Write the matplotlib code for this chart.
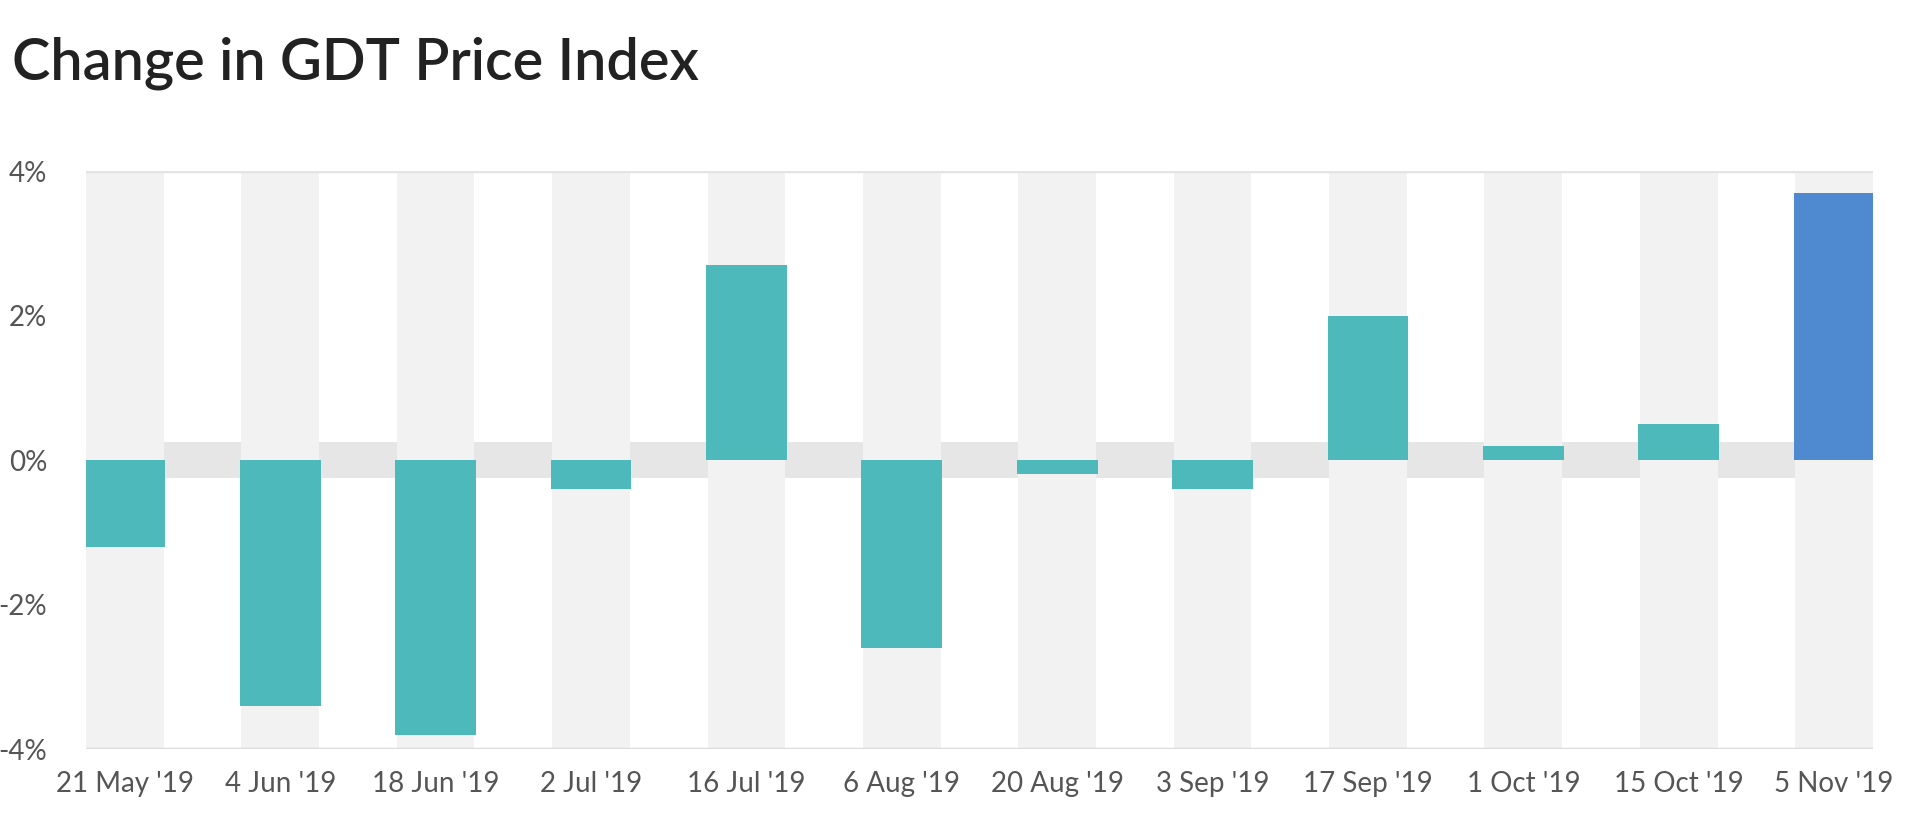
import matplotlib.pyplot as plt

plt.rcParams['font.family'] = ['Lato', 'DejaVu Sans']

# data (% change per GDT event)
dates = ["21 May '19", "4 Jun '19", "18 Jun '19", "2 Jul '19", "16 Jul '19", "6 Aug '19",
         "20 Aug '19", "3 Sep '19", "17 Sep '19", "1 Oct '19", "15 Oct '19", "5 Nov '19"]
changes = [-1.2, -3.4, -3.8, -0.4, 2.7, -2.6, -0.2, -0.4, 2.0, 0.2, 0.5, 3.7]
y_ticks = [-4, -2, 0, 2, 4]
y_labels = ['-4%', '-2%', '0%', '2%', '4%']

teal = '#4db9ba'
blue = '#4f8ad1'
colors = [teal] * (len(changes) - 1) + [blue]
x = list(range(len(dates)))

fig = plt.figure(figsize=(19.2, 8.33), dpi=100)
ax = fig.add_axes([0.0448, 0.1008, 0.9307, 0.6939])

# zero band, column stripes, then the bars
ax.axhspan(-0.25, 0.25, color='#e6e6e6', zorder=0, lw=0)
ax.bar(x, [8] * len(x), bottom=-4, width=0.5, color='#f2f2f2', zorder=1, lw=0)
ax.bar(x, changes, width=0.52, color=colors, zorder=2, lw=0)

ax.axhline(4, color='#e4e4e4', lw=2.5, zorder=1)
ax.axhline(-4, color='#dcdcdc', lw=2.5, zorder=3)

ax.set_xlim(-0.25, len(x) - 0.75)
ax.set_ylim(-4, 4)
ax.set_yticks(y_ticks)
ax.set_yticklabels(y_labels)
ax.set_xticks(x)
ax.set_xticklabels(dates)
ax.tick_params(axis='both', length=0, labelsize=20, labelcolor='#555555')
ax.tick_params(axis='y', pad=28)
ax.tick_params(axis='x', pad=16)
for s in ax.spines.values():
    s.set_visible(False)

fig.text(12 / 1920, 1 - 80 / 833, 'Change in GDT Price Index', fontsize=41.5,
         fontweight='semibold', color='#222222', va='baseline', ha='left')

fig.savefig('out.png', dpi=100, facecolor='white')
